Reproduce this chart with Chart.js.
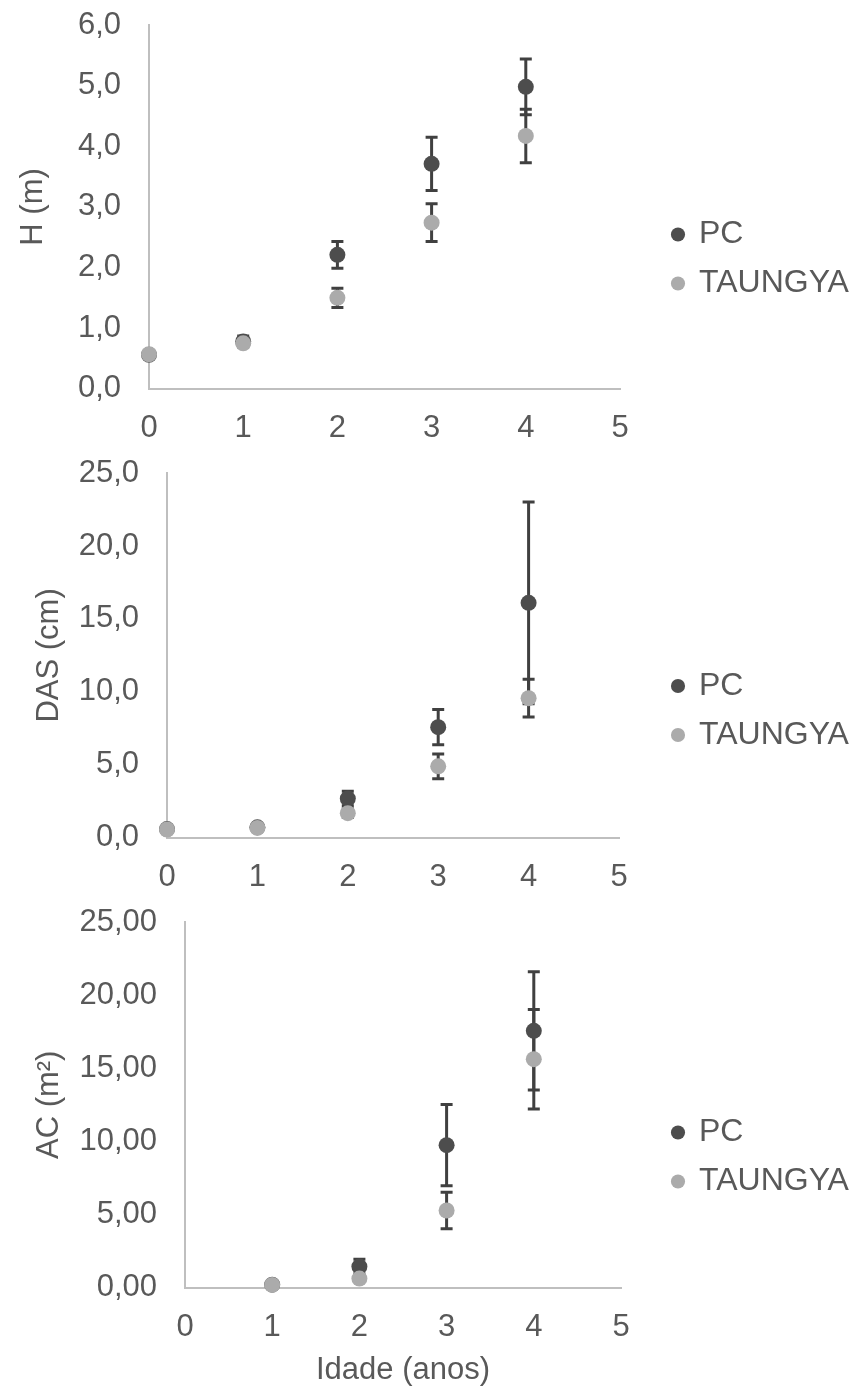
<!DOCTYPE html>
<html>
<head>
<meta charset="utf-8">
<script src="https://cdn.jsdelivr.net/npm/chart.js@4"></script>
<style>
  html, body { margin: 0; padding: 0; background: #fff; overflow: hidden; }
  #wrap { position: relative; width: 856px; height: 1390px; }
  canvas { position: absolute; left: 0; }
</style>
</head>
<body>
<div id="wrap">
  <canvas id="chartH" width="856" height="450" style="top:0px"></canvas>
  <canvas id="chartDAS" width="856" height="448" style="top:448px"></canvas>
  <canvas id="chartAC" width="856" height="500" style="top:890px"></canvas>
</div>
<script>
// ages (anos)
const ages = [0, 1, 2, 3, 4];
const acAges = [1, 2, 3, 4];
const seriesNames = ["PC", "TAUNGYA"];

// H (m)
const hPC = [0.56, 0.78, 2.21, 3.71, 4.98];
const hPCsd = [0.03, 0.09, 0.22, 0.44, 0.46];
const hTG = [0.57, 0.75, 1.50, 2.74, 4.17];
const hTGsd = [0.03, 0.05, 0.16, 0.31, 0.44];

// DAS (cm)
const dasPC = [0.60, 0.72, 2.69, 7.58, 16.10];
const dasPCsd = [0.10, 0.10, 0.50, 1.21, 6.92];
const dasTG = [0.57, 0.68, 1.69, 4.90, 9.57];
const dasTGsd = [0.05, 0.08, 0.30, 0.85, 1.29];

// AC (m2)
const acPC = [0.20, 1.44, 9.74, 17.56];
const acPCsd = [0.05, 0.50, 2.78, 4.04];
const acTG = [0.18, 0.62, 5.27, 15.62];
const acTGsd = [0.03, 0.20, 1.25, 3.40];

const textColor = "#595959";
const axisColor = "#bfbfbf";
const pcColor = "#4d4d4d";
const tgColor = "#ababab";
const fontFamily = "'Liberation Sans', Arial, sans-serif";

Chart.defaults.font.family = fontFamily;
Chart.defaults.font.size = 31;
Chart.defaults.color = textColor;

// draws the error bars under the points
const errorBars = {
    id: "errorBars",
    beforeDatasetsDraw(chart, args, opts) {
        const ctx = chart.ctx;
        const xs = chart.scales.x;
        const ys = chart.scales.y;
        ctx.save();
        ctx.strokeStyle = opts.color;
        ctx.lineWidth = opts.width;
        for (let ds of chart.data.datasets) {
            ds.data.forEach((p, i) => {
                const e = ds.errors[i];
                const px = xs.getPixelForValue(p.x);
                const top = ys.getPixelForValue(p.y + e);
                const bot = ys.getPixelForValue(p.y - e);
                ctx.beginPath();
                ctx.moveTo(px, top);
                ctx.lineTo(px, bot);
                ctx.moveTo(px - opts.cap, top);
                ctx.lineTo(px + opts.cap, top);
                ctx.moveTo(px - opts.cap, bot);
                ctx.lineTo(px + opts.cap, bot);
                ctx.stroke();
            });
        }
        ctx.restore();
    },
};

// keeps the plot right edge fixed and moves the legend where the original has it
const legendPlace = {
    id: "legendPlace",
    beforeLayout(chart, args, opts) {
        const lg = chart.legend;
        if (lg && !lg._placed) {
            const fit = lg.fit;
            lg.fit = function () {
                fit.call(this);
                this.width = chart.width - opts.plotRight;
            };
            lg._placed = true;
        }
    },
    afterLayout(chart, args, opts) {
        const lg = chart.legend;
        const w = lg.right - lg.left;
        lg.left = opts.x;
        lg.right = opts.x + w;
        lg.top += opts.dy;
        lg.bottom += opts.dy;
    },
};

function toPoints(xs, ys) {
    return xs.map((x, i) => ({ x: x, y: ys[i] }));
}

function makeChart(id, xs, pc, pcSd, tg, tgSd, cfg) {
    const fmt = (v) => v.toFixed(cfg.decimals).replace(".", ",");
    return new Chart(document.getElementById(id), {
        type: "scatter",
        data: {
            datasets: [
                {
                    label: seriesNames[0],
                    data: toPoints(xs, pc),
                    errors: pcSd,
                    backgroundColor: pcColor,
                    borderWidth: 0,
                    pointRadius: 8,
                    order: 2,
                    clip: false,
                },
                {
                    label: seriesNames[1],
                    data: toPoints(xs, tg),
                    errors: tgSd,
                    backgroundColor: tgColor,
                    borderWidth: 0,
                    pointRadius: 8,
                    order: 1,
                    clip: false,
                },
            ],
        },
        options: {
            responsive: false,
            animation: false,
            devicePixelRatio: 1,
            events: [],
            layout: { padding: cfg.padding },
            scales: {
                x: {
                    type: "linear",
                    min: 0,
                    max: 5,
                    // tick marks hidden, their length only spaces the labels
                    grid: { display: false, drawTicks: true, tickLength: 21 },
                    border: { display: true, color: axisColor, width: 2 },
                    ticks: { stepSize: 1, padding: 0, color: textColor },
                    title: cfg.xTitle
                        ? { display: true, text: cfg.xTitle, color: textColor, padding: { top: 6, bottom: 1 } }
                        : { display: false },
                },
                y: {
                    min: 0,
                    max: cfg.max,
                    grid: { display: false, drawTicks: true, tickLength: 28 },
                    border: { display: true, color: axisColor, width: 2 },
                    ticks: { stepSize: cfg.step, padding: 0, color: textColor, callback: fmt },
                    title: {
                        display: true,
                        text: cfg.yTitle,
                        color: textColor,
                        padding: { top: cfg.titlePad, bottom: 0 },
                    },
                    afterFit(scale) {
                        scale.width = cfg.plotLeft;
                    },
                },
            },
            plugins: {
                tooltip: { enabled: false },
                legend: {
                    position: "right",
                    labels: {
                        usePointStyle: true,
                        pointStyle: "circle",
                        boxWidth: 10,
                        boxHeight: 10,
                        padding: 17,
                        color: textColor,
                        font: { size: 32 },
                        sort: (a, b) => a.datasetIndex - b.datasetIndex,
                    },
                },
                errorBars: { color: "#404040", width: 3, cap: 6 },
                legendPlace: { plotRight: cfg.plotRight, x: 656, dy: cfg.legendDy },
            },
        },
        plugins: [errorBars, legendPlace],
    });
}

makeChart("chartH", ages, hPC, hPCsd, hTG, hTGsd, {
    decimals: 1, max: 6, step: 1, yTitle: "H (m)", titlePad: 15,
    plotLeft: 149, plotRight: 620, legendDy: 23,
    padding: { top: 25, bottom: 3, left: 0, right: 0 },
});

makeChart("chartDAS", ages, dasPC, dasPCsd, dasTG, dasTGsd, {
    decimals: 1, max: 25, step: 5, yTitle: "DAS (cm)", titlePad: 31,
    plotLeft: 167, plotRight: 619, legendDy: 26,
    padding: { top: 25, bottom: 0, left: 0, right: 0 },
});

makeChart("chartAC", acAges, acPC, acPCsd, acTG, acTGsd, {
    decimals: 2, max: 25, step: 5, yTitle: "AC (m²)", titlePad: 31,
    plotLeft: 185, plotRight: 621, legendDy: 1, xTitle: "Idade (anos)",
    padding: { top: 32, bottom: 0, left: 0, right: 0 },
});
</script>
</body>
</html>
